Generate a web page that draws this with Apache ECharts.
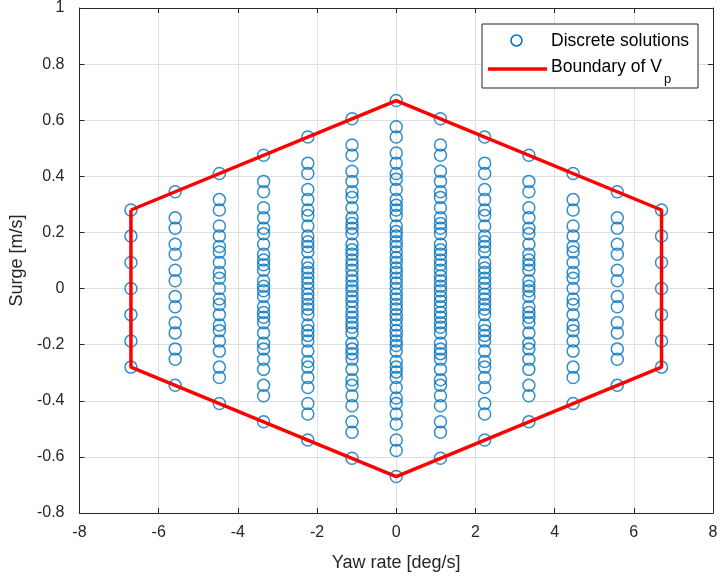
<!DOCTYPE html>
<html>
<head>
<meta charset="utf-8">
<script src="https://cdn.jsdelivr.net/npm/echarts@6/dist/echarts.min.js"></script>
<style>html,body{margin:0;padding:0;background:#fff;}#c{width:723px;height:578px;}</style>
</head>
<body>
<div id="c"></div>
<script>
// Column x positions (yaw rate, deg/s)
const colX = [-6.7, -5.583, -4.467, -3.35, -2.233, -1.117, 0, 1.117, 2.233, 3.35, 4.467, 5.583, 6.7];
// Surge values per column (outer column = col6, centre = col0)
const col6 = [0.28, 0.187, 0.093, 0, -0.093, -0.187, -0.28];
const col5 = [0.345, 0.252, 0.158, 0.065, -0.028, -0.122, -0.215,
              0.215, 0.122, 0.028, -0.065, -0.158, -0.252, -0.345];
const col4 = [0.41, 0.317, 0.223, 0.13, 0.037, -0.057, -0.15,
              0.28, 0.187, 0.093, 0, -0.093, -0.187, -0.28,
              0.15, 0.057, -0.037, -0.13, -0.223, -0.317, -0.41];
const col3 = [0.475, 0.382, 0.288, 0.195, 0.102, 0.008, -0.085,
              0.345, 0.252, 0.158, 0.065, -0.028, -0.122, -0.215,
              0.215, 0.122, 0.028, -0.065, -0.158, -0.252, -0.345,
              0.085, -0.008, -0.102, -0.195, -0.288, -0.382, -0.475];
const col2 = [0.54, 0.447, 0.353, 0.26, 0.167, 0.073, -0.02,
              0.41, 0.317, 0.223, 0.13, 0.037, -0.057, -0.15,
              0.28, 0.187, 0.093, 0, -0.093, -0.187, -0.28,
              0.15, 0.057, -0.037, -0.13, -0.223, -0.317, -0.41,
              0.02, -0.073, -0.167, -0.26, -0.353, -0.447, -0.54];
const col1 = [0.605, 0.512, 0.418, 0.325, 0.232, 0.138, 0.045,
              0.475, 0.382, 0.288, 0.195, 0.102, 0.008, -0.085,
              0.345, 0.252, 0.158, 0.065, -0.028, -0.122, -0.215,
              0.215, 0.122, 0.028, -0.065, -0.158, -0.252, -0.345,
              0.085, -0.008, -0.102, -0.195, -0.288, -0.382, -0.475,
              -0.045, -0.138, -0.232, -0.325, -0.418, -0.512, -0.605];
const col0 = [0.67, 0.577, 0.483, 0.39, 0.297, 0.203, 0.11,
              0.54, 0.447, 0.353, 0.26, 0.167, 0.073, -0.02,
              0.41, 0.317, 0.223, 0.13, 0.037, -0.057, -0.15,
              0.28, 0.187, 0.093, 0, -0.093, -0.187, -0.28,
              0.15, 0.057, -0.037, -0.13, -0.223, -0.317, -0.41,
              0.02, -0.073, -0.167, -0.26, -0.353, -0.447, -0.54,
              -0.11, -0.203, -0.297, -0.39, -0.483, -0.577, -0.67];
const colValues = [col6, col5, col4, col3, col2, col1, col0, col1, col2, col3, col4, col5, col6];

// Boundary hexagon
const boundX = [-6.7, 0, 6.7, 6.7, 0, -6.7, -6.7];
const boundY = [0.28, 0.67, 0.28, -0.28, -0.67, -0.28, 0.28];

const xTicks = {min: -8, max: 8, interval: 2};
const yTicks = {min: -0.8, max: 1, interval: 0.2};

const scatterData = [];
colX.forEach((x, i) => colValues[i].forEach(y => scatterData.push([x, y])));
const boundData = boundX.map((x, i) => [x, boundY[i]]);

const FONT = "'Liberation Sans', Arial, Helvetica, sans-serif";
const AX = '#262626';
const chart = echarts.init(document.getElementById('c'), null, {renderer: 'canvas'});
const fmtY = v => {
  const r = Math.round(v * 10) / 10;
  return r === 0 ? '0' : String(r);
};
chart.setOption({
  animation: false,
  backgroundColor: '#fff',
  grid: {left: 76, right: 10, top: 8, bottom: 65, containLabel: false},
  xAxis: [{
    type: 'value', min: xTicks.min, max: xTicks.max, interval: xTicks.interval,
    name: 'Yaw rate [deg/s]', nameLocation: 'middle', nameGap: 41,
    nameTextStyle: {fontFamily: FONT, fontSize: 18, color: AX},
    axisLine: {show: true, onZero: false, lineStyle: {color: AX, width: 1}},
    axisTick: {show: true, inside: true, length: 5, lineStyle: {color: AX}},
    axisLabel: {fontFamily: FONT, fontSize: 16, color: AX, margin: 12},
    splitLine: {show: true, lineStyle: {color: '#dfdfdf', width: 1}}
  }, {
    type: 'value', position: 'top', min: xTicks.min, max: xTicks.max, interval: xTicks.interval,
    axisLine: {show: true, onZero: false, lineStyle: {color: AX, width: 1}},
    axisTick: {show: true, inside: true, length: 5, lineStyle: {color: AX}},
    axisLabel: {show: false}, splitLine: {show: false}
  }],
  yAxis: [{
    type: 'value', min: yTicks.min, max: yTicks.max, interval: yTicks.interval,
    name: 'Surge [m/s]', nameLocation: 'middle', nameGap: 50,
    nameTextStyle: {fontFamily: FONT, fontSize: 18, color: AX},
    axisLine: {show: true, onZero: false, lineStyle: {color: AX, width: 1}},
    axisTick: {show: true, inside: true, length: 5, lineStyle: {color: AX}},
    axisLabel: {fontFamily: FONT, fontSize: 16, color: AX, margin: 15, formatter: fmtY},
    splitLine: {show: true, lineStyle: {color: '#dfdfdf', width: 1}}
  }, {
    type: 'value', position: 'right', min: yTicks.min, max: yTicks.max, interval: yTicks.interval,
    axisLine: {show: true, onZero: false, lineStyle: {color: AX, width: 1}},
    axisTick: {show: true, inside: true, length: 5, lineStyle: {color: AX}},
    axisLabel: {show: false}, splitLine: {show: false}
  }],
  series: [{
    name: 'Discrete solutions', type: 'scatter', data: scatterData,
    symbol: 'circle', symbolSize: 12, z: 3,
    itemStyle: {color: 'rgba(0,0,0,0)', borderColor: '#0072BD', borderWidth: 1.5}
  }, {
    name: 'Boundary of Vp', type: 'line', data: boundData, showSymbol: false, z: 4,
    lineStyle: {color: '#FF0000', width: 3.5}
  }],
  graphic: [
    {type: 'rect', shape: {x: 482, y: 24, width: 216, height: 64},
     style: {fill: '#fff', stroke: AX, lineWidth: 1}, z: 100},
    {type: 'circle', shape: {cx: 516.5, cy: 40.5, r: 5.5},
     style: {fill: 'none', stroke: '#0072BD', lineWidth: 1.5}, z: 101},
    {type: 'text', x: 551, y: 41.5, style: {text: 'Discrete solutions', font: '17.5px ' + FONT, fill: '#000', verticalAlign: 'middle'}, z: 101},
    {type: 'line', shape: {x1: 488, y1: 69, x2: 547, y2: 69},
     style: {stroke: '#FF0000', lineWidth: 3.5}, z: 101},
    {type: 'text', x: 551, y: 67, style: {text: 'Boundary of V', font: '17.5px ' + FONT, fill: '#000', verticalAlign: 'middle'}, z: 101},
    {type: 'text', x: 664, y: 79, style: {text: 'p', font: '13px ' + FONT, fill: '#000', verticalAlign: 'middle'}, z: 101}
  ]
});
</script>
</body>
</html>
